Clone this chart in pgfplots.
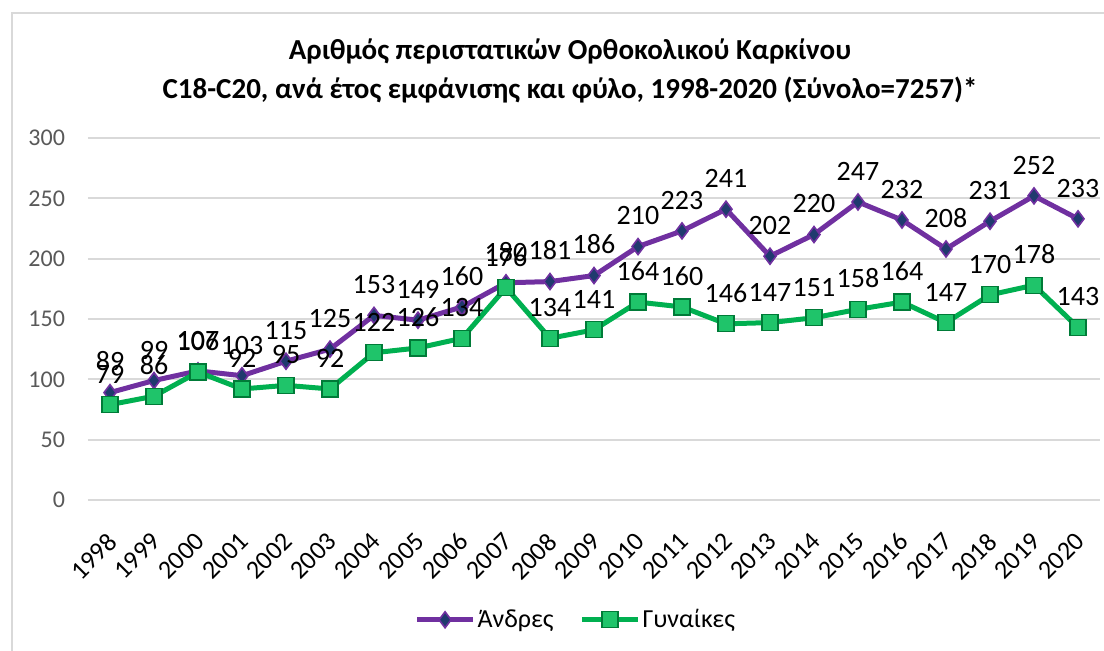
\documentclass[border=0pt]{standalone}
\usepackage{fontspec}
\setmainfont{Carlito}
\usepackage{pgfplots}
\pgfplotsset{compat=1.18}

\definecolor{men}{HTML}{7030A0}
\definecolor{menfill}{HTML}{1F3A6E}
\definecolor{women}{HTML}{00B050}
\definecolor{womenfill}{HTML}{1FC46A}
\definecolor{gridgray}{HTML}{D9D9D9}
\definecolor{ticktext}{HTML}{595959}

\begin{document}
\begin{tikzpicture}
  % page = 1104 x 651 px, 1px = 0.5pt
  \useasboundingbox (0,0) rectangle (552pt,325.5pt);
  \draw[gridgray, line width=1pt] (6pt,0) -- (6pt,319pt) -- (552pt,319pt);
  \node[align=center, font=\bfseries\fontsize{14.5}{19.5}\selectfont] at (285pt,290pt)
    {Αριθμός περιστατικών Ορθοκολικού Καρκίνου\\
     C18-C20, ανά έτος εμφάνισης και φύλο, 1998-2020 (Σύνολο=7257)*};
  \begin{axis}[
      at={(44pt,75.5pt)}, anchor=south west,
      scale only axis,
      width=506pt, height=181pt,
      xmin=-0.5, xmax=22.5,
      ymin=0, ymax=300,
      ytick={0,50,...,300},
      xtick={0,...,22},
      xticklabels={1998,1999,2000,2001,2002,2003,2004,2005,2006,2007,2008,2009,
                   2010,2011,2012,2013,2014,2015,2016,2017,2018,2019,2020},
      x tick label style={rotate=45, anchor=north east, xshift=-9pt, yshift=-6pt,
                          font=\fontsize{13}{15}\selectfont, text=black},
      y tick label style={font=\fontsize{12}{14}\selectfont, text=ticktext, xshift=-8pt},
      /pgf/number format/assume math mode=true,
      ymajorgrids=true,
      grid style={gridgray, line width=0.9pt},
      axis line style={draw=none},
      major tick length=0pt,
      clip=false,
      nodes near coords,
      every node near coord/.append style={font=\fontsize{14}{16}\selectfont,
                                           text=black, anchor=south, yshift=7pt},
      legend columns=2,
      legend style={at={(0.482,-0.331)}, anchor=center, draw=none, fill=none,
                    font=\fontsize{13}{15}\selectfont,
                    nodes={inner sep=1pt},
                    /tikz/every even column/.append style={column sep=12pt}},
      legend image code/.code={
        \draw[mark repeat=2, mark phase=2] plot coordinates {(0pt,0pt) (14pt,0pt) (28pt,0pt)};},
    ]
    \addplot[men, line width=2.5pt, mark=diamond*, mark size=4pt,
             mark options={fill=menfill, draw=men, line width=0.8pt}]
      coordinates {
        (0,89) (1,99) (2,107) (3,103) (4,115) (5,125) (6,153) (7,149) (8,160)
        (9,180) (10,181) (11,186) (12,210) (13,223) (14,241) (15,202) (16,220)
        (17,247) (18,232) (19,208) (20,231) (21,252) (22,233)
      };
    \addlegendentry{Άνδρες}
    \addplot[women, line width=2.5pt, mark=square*, mark size=4pt,
             mark options={fill=womenfill, draw=women!70!black, line width=0.6pt}]
      coordinates {
        (0,79) (1,86) (2,106) (3,92) (4,95) (5,92) (6,122) (7,126) (8,134)
        (9,176) (10,134) (11,141) (12,164) (13,160) (14,146) (15,147) (16,151)
        (17,158) (18,164) (19,147) (20,170) (21,178) (22,143)
      };
    \addlegendentry{Γυναίκες}
  \end{axis}
\end{tikzpicture}
\end{document}
